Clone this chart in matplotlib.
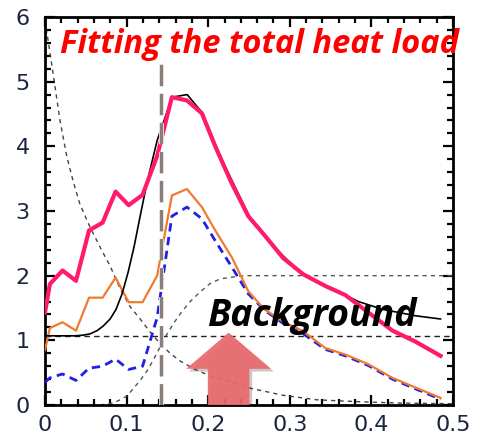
import matplotlib
matplotlib.use("Agg")
import matplotlib.pyplot as plt
from matplotlib.patches import FancyArrow
from matplotlib.ticker import MultipleLocator
import matplotlib.patheffects as pe

# sample positions shared by the fitted / measured profiles
x_grid = [0.0, 0.006, 0.0215, 0.038, 0.054, 0.0706, 0.0865, 0.1025, 0.1196,
          0.1374, 0.1555, 0.1739, 0.1923, 0.2086, 0.2291, 0.2491, 0.2687,
          0.292, 0.3166, 0.3436, 0.3681, 0.3963, 0.4258, 0.454, 0.4847]
total_fit = [1.43, 1.87, 2.08, 1.92, 2.70, 2.82, 3.30, 3.09, 3.25, 3.85, 4.76,
             4.71, 4.51, 4.00, 3.42, 2.92, 2.63, 2.27, 2.02, 1.84, 1.70, 1.43,
             1.15, 0.98, 0.76]
orange_prof = [0.85, 1.19, 1.28, 1.15, 1.66, 1.66, 1.97, 1.59, 1.59, 2.00, 3.24,
               3.34, 3.06, 2.70, 2.28, 1.76, 1.48, 1.29, 1.14, 0.88, 0.78, 0.63,
               0.42, 0.27, 0.11]
blue_prof = [0.35, 0.42, 0.48, 0.38, 0.57, 0.60, 0.71, 0.55, 0.60, 1.35, 2.92,
             3.06, 2.88, 2.54, 2.13, 1.72, 1.47, 1.26, 1.10, 0.86, 0.76, 0.61,
             0.40, 0.25, 0.09]

# measured heat load (black)
x_meas = [0.0, 0.0184, 0.0368, 0.0466, 0.0552, 0.0638, 0.0712, 0.0798, 0.0871,
          0.0945, 0.1018, 0.1092, 0.1166, 0.1252, 0.1374, 0.1558, 0.1742,
          0.1926, 0.2172, 0.2515, 0.2859, 0.3129, 0.3436, 0.3681, 0.3840,
          0.4135, 0.4540, 0.4847]
meas = [1.07, 1.07, 1.07, 1.08, 1.10, 1.15, 1.22, 1.33, 1.48, 1.72, 2.05, 2.45,
        2.92, 3.45, 4.09, 4.76, 4.80, 4.52, 3.78, 2.89, 2.38, 2.05, 1.84, 1.70,
        1.60, 1.48, 1.38, 1.33]

# background components (thin dashed)
x_decay = [0.0, 0.0061, 0.0102, 0.0184, 0.0266, 0.0347, 0.0429, 0.0552, 0.0696,
           0.0798, 0.092, 0.1043, 0.1166, 0.1288, 0.1411, 0.1534, 0.1656, 0.184,
           0.2025, 0.2245, 0.2515, 0.2663, 0.292, 0.3337, 0.3865, 0.4356, 0.5]
decay = [5.95, 5.45, 5.10, 4.40, 3.85, 3.45, 3.10, 2.75, 2.39, 2.15, 1.80, 1.52,
         1.33, 1.13, 0.95, 0.80, 0.68, 0.55, 0.45, 0.37, 0.26, 0.22, 0.15, 0.08,
         0.05, 0.03, 0.02]
x_rise = [0.0675, 0.0834, 0.092, 0.1006, 0.108, 0.1166, 0.1252, 0.1325, 0.1432,
          0.1497, 0.1574, 0.1669, 0.1779, 0.1902, 0.2025, 0.2147, 0.2307,
          0.2454, 0.5]
rise = [0.0, 0.03, 0.08, 0.14, 0.25, 0.38, 0.53, 0.69, 0.95, 1.10, 1.26, 1.43,
        1.60, 1.75, 1.88, 1.95, 1.98, 2.0, 2.0]
base_level = 1.07
x_sep = 0.142

fig = plt.figure(figsize=(4.87, 4.41), dpi=100)
ax = fig.add_axes([0.0924, 0.0816, 0.8378, 0.8799])

ax.plot(x_decay, decay, color='#444444', lw=1.0, ls=(0, (3, 3)), zorder=2)
ax.plot(x_rise, rise, color='#555555', lw=1.0, ls=(0, (3, 3)), zorder=2)
ax.axhline(base_level, color='#222222', lw=1.0, ls=(0, (4, 3)), zorder=2)

ax.plot(x_grid, blue_prof, color='#1f1fe6', lw=2.0, ls=(0, (3, 2)), zorder=3)
ax.plot(x_grid, orange_prof, color='#f07b2e', lw=1.6, zorder=4)
ax.plot(x_meas, meas, color='black', lw=1.2, zorder=5)
ax.plot(x_grid, total_fit, color='#ff1a6e', lw=3.0, zorder=6)

ax.plot([x_sep, x_sep], [0, 5.3], color='#8a7e78', lw=2.2, ls=(0, (7, 2.5)),
        zorder=7, path_effects=[pe.Stroke(linewidth=3.5, foreground='#e4e0de'),
                                pe.Normal()])

arrow = FancyArrow(0.225, 0.0, 0.0, 1.12, width=0.051, head_width=0.104,
                   head_length=0.56, length_includes_head=True,
                   facecolor='#e8696d', edgecolor='none', alpha=0.92, zorder=8,
                   path_effects=[pe.SimplePatchShadow(offset=(2, -2), alpha=0.25),
                                 pe.Normal()])
ax.add_patch(arrow)

ax.text(0.0184, 5.58, 'Fitting the total heat load', color='#ff0000',
        fontsize=23.5, fontweight='bold', fontstyle='italic', family='Open Sans',
        va='center', ha='left', zorder=9, clip_on=False)
ax.text(0.1988, 1.38, 'Background', color='black', fontsize=27,
        fontweight='bold', fontstyle='italic', family='Open Sans',
        va='center', ha='left', zorder=9)

ax.set_xlim(0, 0.5)
ax.set_ylim(0, 6)
ax.xaxis.set_minor_locator(MultipleLocator(0.02))
ax.yaxis.set_major_locator(MultipleLocator(1))
ax.yaxis.set_minor_locator(MultipleLocator(0.2))
ax.set_xticks([0, 0.1, 0.2, 0.3, 0.4, 0.5])
ax.set_xticklabels(['0', '0.1', '0.2', '0.3', '0.4', '0.5'])
ax.tick_params(which='both', direction='in', top=True, right=True,
               width=1.6, colors='black', labelcolor='#1c2440', labelsize=16)
ax.tick_params(axis='x', pad=7)
ax.tick_params(axis='y', pad=11)
ax.tick_params(which='major', length=7)
ax.tick_params(which='minor', length=4)
for lbl in ax.get_xticklabels() + ax.get_yticklabels():
    lbl.set_family('DejaVu Sans')
for s in ax.spines.values():
    s.set_linewidth(2.0)

fig.savefig('out.png', dpi=100)
